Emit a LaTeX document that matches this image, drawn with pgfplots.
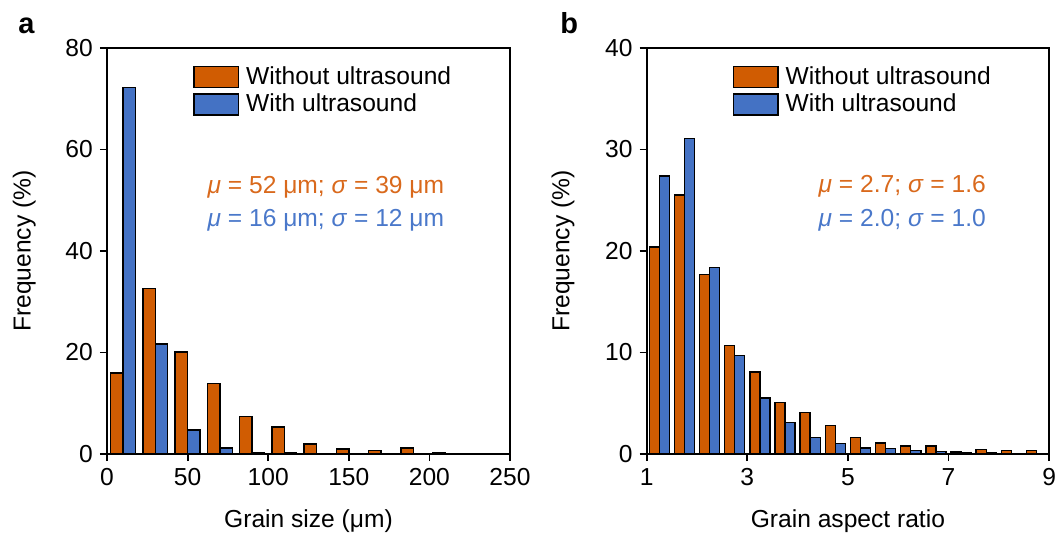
\documentclass[border=0pt]{standalone}
\usepackage{pgfplots}
\pgfplotsset{compat=1.18}
\usepackage{fontspec}
\setmainfont{Liberation Sans}
\definecolor{cor}{HTML}{D05C02}
\definecolor{cbl}{HTML}{4472C4}
\definecolor{tor}{HTML}{D9691C}
\definecolor{tbl}{HTML}{4A78CA}
\begin{document}
\begin{tikzpicture}[font=\fontsize{12.3pt}{14.8pt}\selectfont]
\useasboundingbox (0,0) rectangle (529pt,-268.5pt);
\pgfplotsset{
  hist/.style={scale only axis, height=203pt, anchor=south west,
    axis line style={line width=0.9pt}, tick align=outside, tick pos=left,
    major tick length=3.6pt, every tick/.style={black, line width=0.9pt},
    /pgf/number format/assume math mode=true, ymin=0, ybar, bar shift=0pt,
    ylabel={Frequency (\%)},
    x label style={at={(axis description cs:0.5,-0.165)}, anchor=center},
    legend style={at={(axis description cs:0.2125,0.966)}, anchor=north west,
      draw=none, fill=none, inner sep=0pt, row sep=-1.2pt, column sep=0pt,
      nodes={inner xsep=0.3333em, inner ysep=2.2pt}, legend cell align=left},
  },
  orb/.style={fill=cor, draw=black, line width=0.7pt,
    legend image code/.code={\draw[fill=cor, draw=black, line width=0.9pt] (0pt,-5.25pt) rectangle (22.3pt,5.25pt);}},
  blb/.style={fill=cbl, draw=black, line width=0.7pt,
    legend image code/.code={\draw[fill=cbl, draw=black, line width=0.9pt] (0pt,-5.25pt) rectangle (22.3pt,5.25pt);}},
}
\begin{axis}[hist, at={(53.5pt,-227pt)}, width=201.5pt, bar width=7.7,
  xmin=0, xmax=250, ymax=80, xtick={0,50,100,150,200,250}, ytick={0,20,40,60,80},
  xlabel={Grain size (μm)},
  y label style={at={(axis description cs:-0.205,0.5)}, anchor=center}]
\addplot[orb] coordinates {(6.15,16.0) (26.15,32.6) (46.15,20.1) (66.15,13.9) (86.15,7.4) (106.15,5.3) (126.15,2.0) (146.15,1.0) (166.15,0.7) (186.15,1.2) (206.15,0.3) (246.15,0.1)};
\addlegendentry{Without ultrasound}
\addplot[blb] coordinates {(13.85,72.2) (33.85,21.7) (53.85,4.7) (73.85,1.2) (93.85,0.3) (113.85,0.2) (213.85,0.05)};
\addlegendentry{With ultrasound}
\node[tor, anchor=base] at (axis cs:135.8,51.4) {\textit{μ} = 52 μm; \textit{σ} = 39 μm};
\node[tbl, anchor=base] at (axis cs:135.8,44.8) {\textit{μ} = 16 μm; \textit{σ} = 12 μm};
\end{axis}
\begin{axis}[hist, at={(323.35pt,-227pt)}, width=201.2pt, bar width=0.2,
  xmin=1, xmax=9, ymax=40, xtick={1,3,5,7,9}, ytick={0,10,20,30,40},
  xlabel={Grain aspect ratio},
  y label style={at={(axis description cs:-0.208,0.5)}, anchor=center}]
\addplot[orb] coordinates {(1.15,20.4) (1.65,25.5) (2.15,17.7) (2.65,10.7) (3.15,8.1) (3.65,5.1) (4.15,4.1) (4.65,2.8) (5.15,1.6) (5.65,1.1) (6.15,0.8) (6.65,0.8) (7.15,0.2) (7.65,0.46) (8.15,0.36) (8.65,0.36)};
\addlegendentry{Without ultrasound}
\addplot[blb] coordinates {(1.35,27.4) (1.85,31.1) (2.35,18.4) (2.85,9.7) (3.35,5.5) (3.85,3.1) (4.35,1.6) (4.85,1.05) (5.35,0.6) (5.85,0.55) (6.35,0.33) (6.85,0.23) (7.35,0.1) (7.85,0.1) (8.35,0.05) (8.85,0.05)};
\addlegendentry{With ultrasound}
\node[tor, anchor=base] at (axis cs:6.08,25.8) {\textit{μ} = 2.7; \textit{σ} = 1.6};
\node[tbl, anchor=base] at (axis cs:6.08,22.4) {\textit{μ} = 2.0; \textit{σ} = 1.0};
\end{axis}
\node[font=\bfseries\fontsize{14.5pt}{16pt}\selectfont, anchor=base west, inner sep=0pt] at (9pt,-16.5pt) {a};
\node[font=\bfseries\fontsize{14.5pt}{16pt}\selectfont, anchor=base west, inner sep=0pt] at (280pt,-16.5pt) {b};
\end{tikzpicture}
\end{document}
